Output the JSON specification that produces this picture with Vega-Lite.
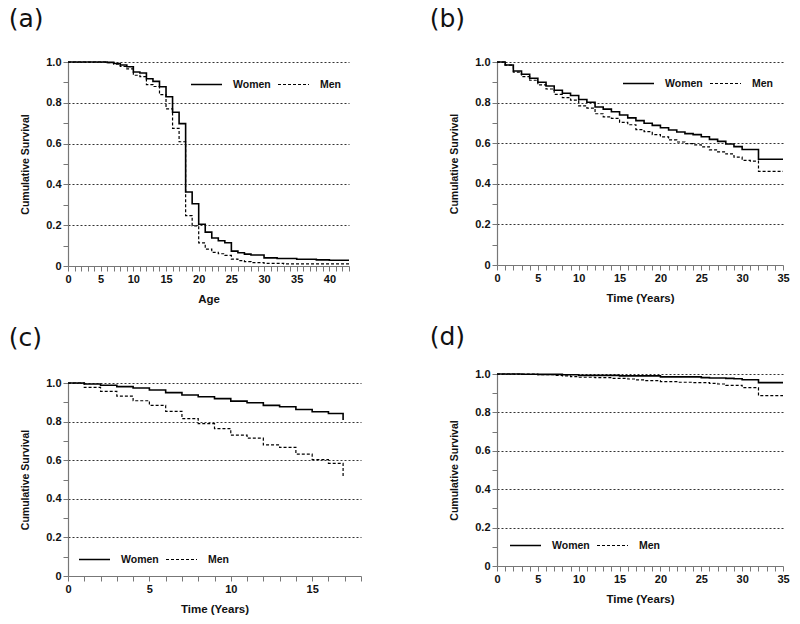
{
  "$schema": "https://vega.github.io/schema/vega-lite/v6.json",
  "padding": {"left": 8, "top": 7, "right": 5, "bottom": 5},
  "config": {
    "view": {"stroke": null},
    "axis": {
      "labelFont": "Liberation Sans",
      "labelFontSize": 11,
      "labelFontWeight": "bold",
      "labelColor": "#111",
      "titleFont": "Liberation Sans",
      "titleFontSize": 11.5,
      "titleFontWeight": "bold",
      "titleColor": "#111",
      "domainColor": "#777",
      "domainWidth": 1.2,
      "tickColor": "#777",
      "tickWidth": 1,
      "tickSize": 5
    },
    "axisY": {"titleFontSize": 10.5},
    "legend": {
      "direction": "horizontal",
      "orient": "none",
      "title": null,
      "symbolType": "stroke",
      "symbolSize": 961,
      "symbolStrokeColor": "black",
      "symbolStrokeWidth": 1.5,
      "labelFont": "Liberation Sans",
      "labelFontSize": 10.5,
      "labelFontWeight": "bold",
      "labelColor": "#111",
      "labelOffset": 10,
      "columnPadding": 4
    },
    "title": {"font": "DejaVu Sans", "fontSize": 25, "fontWeight": "normal", "color": "#111", "anchor": "start", "frame": "bounds"}
  },
  "datasets": {
    "a": [
      {"sex": "Women", "t": 0, "s": 1}, {"sex": "Women", "t": 6, "s": 0.998}, {"sex": "Women", "t": 7, "s": 0.993}, {"sex": "Women", "t": 8, "s": 0.985}, {"sex": "Women", "t": 9, "s": 0.977}, {"sex": "Women", "t": 10, "s": 0.951}, {"sex": "Women", "t": 11, "s": 0.946}, {"sex": "Women", "t": 12, "s": 0.918}, {"sex": "Women", "t": 13, "s": 0.905}, {"sex": "Women", "t": 14, "s": 0.879}, {"sex": "Women", "t": 15, "s": 0.83}, {"sex": "Women", "t": 16, "s": 0.754}, {"sex": "Women", "t": 17, "s": 0.698}, {"sex": "Women", "t": 18, "s": 0.363}, {"sex": "Women", "t": 19, "s": 0.305}, {"sex": "Women", "t": 20, "s": 0.205}, {"sex": "Women", "t": 21, "s": 0.166}, {"sex": "Women", "t": 22, "s": 0.137}, {"sex": "Women", "t": 23, "s": 0.124}, {"sex": "Women", "t": 24, "s": 0.114}, {"sex": "Women", "t": 25, "s": 0.073}, {"sex": "Women", "t": 26, "s": 0.065}, {"sex": "Women", "t": 27, "s": 0.058}, {"sex": "Women", "t": 28, "s": 0.054}, {"sex": "Women", "t": 30, "s": 0.04}, {"sex": "Women", "t": 32, "s": 0.037}, {"sex": "Women", "t": 35, "s": 0.033}, {"sex": "Women", "t": 38, "s": 0.03}, {"sex": "Women", "t": 40, "s": 0.028}, {"sex": "Women", "t": 43, "s": 0.028},
      {"sex": "Men", "t": 0, "s": 1}, {"sex": "Men", "t": 6, "s": 0.997}, {"sex": "Men", "t": 7, "s": 0.99}, {"sex": "Men", "t": 8, "s": 0.978}, {"sex": "Men", "t": 9, "s": 0.966}, {"sex": "Men", "t": 10, "s": 0.935}, {"sex": "Men", "t": 11, "s": 0.928}, {"sex": "Men", "t": 12, "s": 0.889}, {"sex": "Men", "t": 13, "s": 0.88}, {"sex": "Men", "t": 14, "s": 0.84}, {"sex": "Men", "t": 15, "s": 0.77}, {"sex": "Men", "t": 16, "s": 0.675}, {"sex": "Men", "t": 17, "s": 0.609}, {"sex": "Men", "t": 18, "s": 0.247}, {"sex": "Men", "t": 19, "s": 0.197}, {"sex": "Men", "t": 20, "s": 0.113}, {"sex": "Men", "t": 21, "s": 0.083}, {"sex": "Men", "t": 22, "s": 0.067}, {"sex": "Men", "t": 23, "s": 0.06}, {"sex": "Men", "t": 24, "s": 0.052}, {"sex": "Men", "t": 25, "s": 0.034}, {"sex": "Men", "t": 26, "s": 0.026}, {"sex": "Men", "t": 27, "s": 0.021}, {"sex": "Men", "t": 28, "s": 0.017}, {"sex": "Men", "t": 30, "s": 0.013}, {"sex": "Men", "t": 33, "s": 0.01}, {"sex": "Men", "t": 43, "s": 0.01}
    ],
    "b": [
      {"sex": "Women", "t": 0, "s": 1}, {"sex": "Women", "t": 1, "s": 0.985}, {"sex": "Women", "t": 2, "s": 0.956}, {"sex": "Women", "t": 3, "s": 0.94}, {"sex": "Women", "t": 4, "s": 0.92}, {"sex": "Women", "t": 5, "s": 0.9}, {"sex": "Women", "t": 6, "s": 0.882}, {"sex": "Women", "t": 7, "s": 0.861}, {"sex": "Women", "t": 8, "s": 0.846}, {"sex": "Women", "t": 9, "s": 0.835}, {"sex": "Women", "t": 10, "s": 0.815}, {"sex": "Women", "t": 11, "s": 0.802}, {"sex": "Women", "t": 12, "s": 0.778}, {"sex": "Women", "t": 13, "s": 0.768}, {"sex": "Women", "t": 14, "s": 0.755}, {"sex": "Women", "t": 15, "s": 0.739}, {"sex": "Women", "t": 16, "s": 0.725}, {"sex": "Women", "t": 17, "s": 0.711}, {"sex": "Women", "t": 18, "s": 0.698}, {"sex": "Women", "t": 19, "s": 0.688}, {"sex": "Women", "t": 20, "s": 0.676}, {"sex": "Women", "t": 21, "s": 0.665}, {"sex": "Women", "t": 22, "s": 0.655}, {"sex": "Women", "t": 23, "s": 0.647}, {"sex": "Women", "t": 24, "s": 0.642}, {"sex": "Women", "t": 25, "s": 0.632}, {"sex": "Women", "t": 26, "s": 0.619}, {"sex": "Women", "t": 27, "s": 0.609}, {"sex": "Women", "t": 28, "s": 0.596}, {"sex": "Women", "t": 29, "s": 0.583}, {"sex": "Women", "t": 30, "s": 0.569}, {"sex": "Women", "t": 32, "s": 0.521}, {"sex": "Women", "t": 35, "s": 0.521},
      {"sex": "Men", "t": 0, "s": 1}, {"sex": "Men", "t": 1, "s": 0.985}, {"sex": "Men", "t": 2, "s": 0.95}, {"sex": "Men", "t": 3, "s": 0.928}, {"sex": "Men", "t": 4, "s": 0.91}, {"sex": "Men", "t": 5, "s": 0.887}, {"sex": "Men", "t": 6, "s": 0.867}, {"sex": "Men", "t": 7, "s": 0.841}, {"sex": "Men", "t": 8, "s": 0.825}, {"sex": "Men", "t": 9, "s": 0.812}, {"sex": "Men", "t": 10, "s": 0.784}, {"sex": "Men", "t": 11, "s": 0.773}, {"sex": "Men", "t": 12, "s": 0.745}, {"sex": "Men", "t": 13, "s": 0.73}, {"sex": "Men", "t": 14, "s": 0.722}, {"sex": "Men", "t": 15, "s": 0.703}, {"sex": "Men", "t": 16, "s": 0.691}, {"sex": "Men", "t": 17, "s": 0.667}, {"sex": "Men", "t": 18, "s": 0.657}, {"sex": "Men", "t": 19, "s": 0.642}, {"sex": "Men", "t": 20, "s": 0.631}, {"sex": "Men", "t": 21, "s": 0.616}, {"sex": "Men", "t": 22, "s": 0.606}, {"sex": "Men", "t": 23, "s": 0.598}, {"sex": "Men", "t": 24, "s": 0.592}, {"sex": "Men", "t": 25, "s": 0.582}, {"sex": "Men", "t": 26, "s": 0.567}, {"sex": "Men", "t": 27, "s": 0.557}, {"sex": "Men", "t": 28, "s": 0.547}, {"sex": "Men", "t": 29, "s": 0.531}, {"sex": "Men", "t": 30, "s": 0.515}, {"sex": "Men", "t": 31, "s": 0.512}, {"sex": "Men", "t": 32, "s": 0.461}, {"sex": "Men", "t": 35, "s": 0.461}
    ],
    "c": [
      {"sex": "Women", "t": 0, "s": 1}, {"sex": "Women", "t": 1, "s": 0.995}, {"sex": "Women", "t": 2, "s": 0.988}, {"sex": "Women", "t": 3, "s": 0.981}, {"sex": "Women", "t": 4, "s": 0.974}, {"sex": "Women", "t": 5, "s": 0.964}, {"sex": "Women", "t": 6, "s": 0.95}, {"sex": "Women", "t": 7, "s": 0.938}, {"sex": "Women", "t": 8, "s": 0.929}, {"sex": "Women", "t": 9, "s": 0.919}, {"sex": "Women", "t": 10, "s": 0.906}, {"sex": "Women", "t": 11, "s": 0.898}, {"sex": "Women", "t": 12, "s": 0.884}, {"sex": "Women", "t": 13, "s": 0.877}, {"sex": "Women", "t": 14, "s": 0.863}, {"sex": "Women", "t": 15, "s": 0.851}, {"sex": "Women", "t": 16, "s": 0.842}, {"sex": "Women", "t": 16.9, "s": 0.808},
      {"sex": "Men", "t": 0, "s": 1}, {"sex": "Men", "t": 1, "s": 0.977}, {"sex": "Men", "t": 2, "s": 0.957}, {"sex": "Men", "t": 3, "s": 0.932}, {"sex": "Men", "t": 4, "s": 0.908}, {"sex": "Men", "t": 5, "s": 0.884}, {"sex": "Men", "t": 6, "s": 0.853}, {"sex": "Men", "t": 7, "s": 0.815}, {"sex": "Men", "t": 8, "s": 0.789}, {"sex": "Men", "t": 9, "s": 0.764}, {"sex": "Men", "t": 10, "s": 0.73}, {"sex": "Men", "t": 11, "s": 0.714}, {"sex": "Men", "t": 12, "s": 0.679}, {"sex": "Men", "t": 13, "s": 0.666}, {"sex": "Men", "t": 14, "s": 0.631}, {"sex": "Men", "t": 15, "s": 0.603}, {"sex": "Men", "t": 16, "s": 0.584}, {"sex": "Men", "t": 16.9, "s": 0.51}
    ],
    "d": [
      {"sex": "Women", "t": 0, "s": 1}, {"sex": "Women", "t": 3, "s": 0.999}, {"sex": "Women", "t": 5, "s": 0.998}, {"sex": "Women", "t": 8, "s": 0.996}, {"sex": "Women", "t": 10, "s": 0.993}, {"sex": "Women", "t": 15, "s": 0.99}, {"sex": "Women", "t": 20, "s": 0.985}, {"sex": "Women", "t": 25, "s": 0.981}, {"sex": "Women", "t": 26, "s": 0.979}, {"sex": "Women", "t": 28, "s": 0.977}, {"sex": "Women", "t": 29, "s": 0.975}, {"sex": "Women", "t": 30, "s": 0.97}, {"sex": "Women", "t": 32, "s": 0.955}, {"sex": "Women", "t": 35, "s": 0.955},
      {"sex": "Men", "t": 0, "s": 1}, {"sex": "Men", "t": 3, "s": 0.999}, {"sex": "Men", "t": 5, "s": 0.996}, {"sex": "Men", "t": 7, "s": 0.993}, {"sex": "Men", "t": 8, "s": 0.99}, {"sex": "Men", "t": 9, "s": 0.986}, {"sex": "Men", "t": 10, "s": 0.983}, {"sex": "Men", "t": 12, "s": 0.981}, {"sex": "Men", "t": 14, "s": 0.977}, {"sex": "Men", "t": 16, "s": 0.974}, {"sex": "Men", "t": 17, "s": 0.969}, {"sex": "Men", "t": 18, "s": 0.965}, {"sex": "Men", "t": 20, "s": 0.96}, {"sex": "Men", "t": 22, "s": 0.957}, {"sex": "Men", "t": 24, "s": 0.955}, {"sex": "Men", "t": 26, "s": 0.951}, {"sex": "Men", "t": 27, "s": 0.948}, {"sex": "Men", "t": 28, "s": 0.941}, {"sex": "Men", "t": 30, "s": 0.929}, {"sex": "Men", "t": 32, "s": 0.887}, {"sex": "Men", "t": 35, "s": 0.887}
    ]
  },
  "hconcat": [
    {
      "vconcat": [
        {
          "title": {"text": "(a)", "offset": 24, "dx": -12},
          "width": 281, "height": 204,
          "data": {"name": "a"},
          "mark": {"type": "line", "interpolate": "step-after", "color": "black"},
          "encoding": {
            "x": {"field": "t", "type": "quantitative", "scale": {"domain": [0, 43], "nice": false},
              "axis": {"title": "Age", "grid": false, "values": [0,1,2,3,4,5,6,7,8,9,10,11,12,13,14,15,16,17,18,19,20,21,22,23,24,25,26,27,28,29,30,31,32,33,34,35,36,37,38,39,40,41,42,43], "labelExpr": "datum.value % 5 === 0 ? datum.label : ''", "labelFlush": false, "titlePadding": 9}},
            "y": {"field": "s", "type": "quantitative", "scale": {"domain": [0, 1], "nice": false},
              "axis": {"title": "Cumulative Survival", "values": [0,0.1,0.2,0.3,0.4,0.5,0.6,0.7,0.8,0.9,1], "labelExpr": "round(datum.value*10) % 2 === 0 ? (datum.value === 0 ? '0' : format(datum.value, '.1f')) : ''", "grid": true, "gridDash": [2, 2], "gridColor": "#333", "gridWidth": 1, "gridOpacity": {"condition": {"test": "datum.value > 0.05 && round(datum.value*10) % 2 === 0", "value": 1}, "value": 0}, "titlePadding": 15}},
            "strokeDash": {"field": "sex", "type": "nominal", "scale": {"domain": ["Women", "Men"], "range": [[1, 0], [3, 2]]}, "legend": {"legendX": 122, "legendY": 6}},
            "strokeWidth": {"field": "sex", "type": "nominal", "scale": {"domain": ["Women", "Men"], "range": [1.6, 1.2]}, "legend": null}
          }
        },
        {
          "title": {"text": "(c)", "offset": 26, "dx": -12},
          "width": 293, "height": 193,
          "data": {"name": "c"},
          "mark": {"type": "line", "interpolate": "step-after", "color": "black"},
          "encoding": {
            "x": {"field": "t", "type": "quantitative", "scale": {"domain": [0, 18], "nice": false},
              "axis": {"title": "Time (Years)", "grid": false, "values": [0,1,2,3,4,5,6,7,8,9,10,11,12,13,14,15,16,17,18], "labelExpr": "datum.value % 5 === 0 ? datum.label : ''", "labelFlush": false, "titlePadding": 9}},
            "y": {"field": "s", "type": "quantitative", "scale": {"domain": [0, 1], "nice": false},
              "axis": {"title": "Cumulative Survival", "values": [0,0.1,0.2,0.3,0.4,0.5,0.6,0.7,0.8,0.9,1], "labelExpr": "round(datum.value*10) % 2 === 0 ? (datum.value === 0 ? '0' : format(datum.value, '.1f')) : ''", "grid": true, "gridDash": [2, 2], "gridColor": "#333", "gridWidth": 1, "gridOpacity": {"condition": {"test": "datum.value > 0.05 && round(datum.value*10) % 2 === 0", "value": 1}, "value": 0}, "titlePadding": 15}},
            "strokeDash": {"field": "sex", "type": "nominal", "scale": {"domain": ["Women", "Men"], "range": [[1, 0], [3, 2]]}, "legend": {"legendX": 10, "legendY": 160}},
            "strokeWidth": {"field": "sex", "type": "nominal", "scale": {"domain": ["Women", "Men"], "range": [1.6, 1.2]}, "legend": null}
          }
        }
      ],
      "spacing": 21,
      "resolve": {"scale": {"strokeDash": "independent", "strokeWidth": "independent"}, "legend": {"strokeDash": "independent", "strokeWidth": "independent"}}
    },
    {
      "vconcat": [
        {
          "title": {"text": "(b)", "offset": 24, "dx": -20},
          "width": 286, "height": 203,
          "data": {"name": "b"},
          "mark": {"type": "line", "interpolate": "step-after", "color": "black"},
          "encoding": {
            "x": {"field": "t", "type": "quantitative", "scale": {"domain": [0, 35], "nice": false},
              "axis": {"title": "Time (Years)", "grid": false, "values": [0,1,2,3,4,5,6,7,8,9,10,11,12,13,14,15,16,17,18,19,20,21,22,23,24,25,26,27,28,29,30,31,32,33,34,35], "labelExpr": "datum.value % 5 === 0 ? datum.label : ''", "labelFlush": false, "titlePadding": 9}},
            "y": {"field": "s", "type": "quantitative", "scale": {"domain": [0, 1], "nice": false},
              "axis": {"title": "Cumulative Survival", "values": [0,0.1,0.2,0.3,0.4,0.5,0.6,0.7,0.8,0.9,1], "labelExpr": "round(datum.value*10) % 2 === 0 ? (datum.value === 0 ? '0' : format(datum.value, '.1f')) : ''", "grid": true, "gridDash": [2, 2], "gridColor": "#333", "gridWidth": 1, "gridOpacity": {"condition": {"test": "datum.value > 0.05 && round(datum.value*10) % 2 === 0", "value": 1}, "value": 0}, "titlePadding": 15}},
            "strokeDash": {"field": "sex", "type": "nominal", "scale": {"domain": ["Women", "Men"], "range": [[1, 0], [3, 2]]}, "legend": {"legendX": 125, "legendY": 5}},
            "strokeWidth": {"field": "sex", "type": "nominal", "scale": {"domain": ["Women", "Men"], "range": [1.6, 1.2]}, "legend": null}
          }
        },
        {
          "title": {"text": "(d)", "offset": 18, "dx": -20},
          "width": 286, "height": 192,
          "data": {"name": "d"},
          "mark": {"type": "line", "interpolate": "step-after", "color": "black"},
          "encoding": {
            "x": {"field": "t", "type": "quantitative", "scale": {"domain": [0, 35], "nice": false},
              "axis": {"title": "Time (Years)", "grid": false, "values": [0,1,2,3,4,5,6,7,8,9,10,11,12,13,14,15,16,17,18,19,20,21,22,23,24,25,26,27,28,29,30,31,32,33,34,35], "labelExpr": "datum.value % 5 === 0 ? datum.label : ''", "labelFlush": false, "titlePadding": 9}},
            "y": {"field": "s", "type": "quantitative", "scale": {"domain": [0, 1], "nice": false},
              "axis": {"title": "Cumulative Survival", "values": [0,0.1,0.2,0.3,0.4,0.5,0.6,0.7,0.8,0.9,1], "labelExpr": "round(datum.value*10) % 2 === 0 ? (datum.value === 0 ? '0' : format(datum.value, '.1f')) : ''", "grid": true, "gridDash": [2, 2], "gridColor": "#333", "gridWidth": 1, "gridOpacity": {"condition": {"test": "datum.value > 0.05 && round(datum.value*10) % 2 === 0", "value": 1}, "value": 0}, "titlePadding": 15}},
            "strokeDash": {"field": "sex", "type": "nominal", "scale": {"domain": ["Women", "Men"], "range": [[1, 0], [3, 2]]}, "legend": {"legendX": 12, "legendY": 155}},
            "strokeWidth": {"field": "sex", "type": "nominal", "scale": {"domain": ["Women", "Men"], "range": [1.6, 1.2]}, "legend": null}
          }
        }
      ],
      "spacing": 21,
      "resolve": {"scale": {"strokeDash": "independent", "strokeWidth": "independent"}, "legend": {"strokeDash": "independent", "strokeWidth": "independent"}}
    }
  ],
  "spacing": 67,
  "resolve": {"scale": {"strokeDash": "independent", "strokeWidth": "independent"}, "legend": {"strokeDash": "independent", "strokeWidth": "independent"}}
}
